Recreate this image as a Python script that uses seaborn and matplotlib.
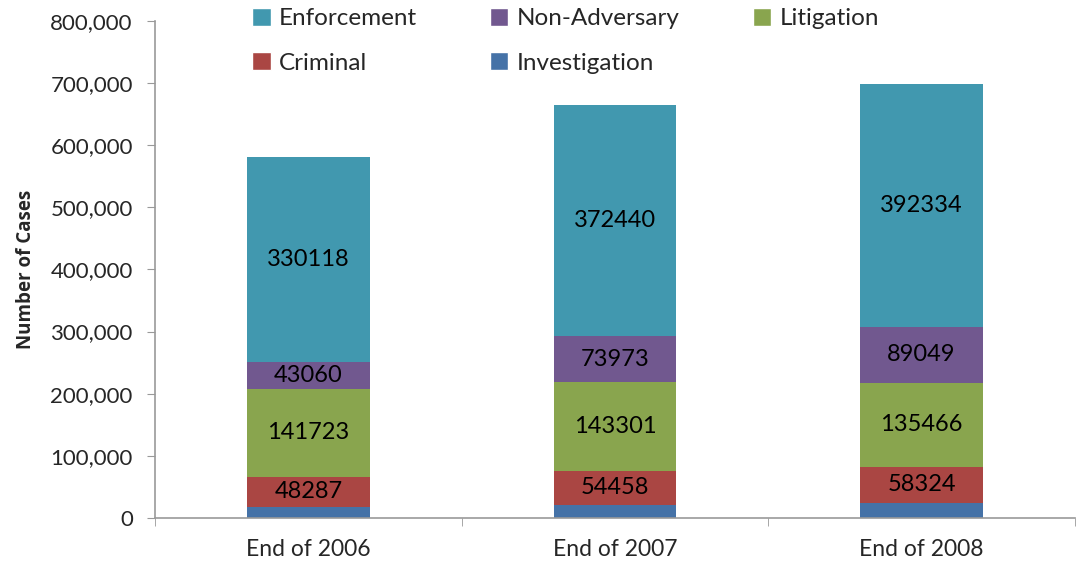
import numpy as np
import pandas as pd
import matplotlib.pyplot as plt
import seaborn as sns
from matplotlib.patches import Patch
from matplotlib.ticker import FuncFormatter

# Data
years = ['End of 2006', 'End of 2007', 'End of 2008']
investigation = [18000, 21000, 24000]
criminal = [48287, 54458, 58324]
litigation = [141723, 143301, 135466]
non_adversary = [43060, 73973, 89049]
enforcement = [330118, 372440, 392334]

# stacking order, bottom to top
series = {
    'Investigation': investigation,
    'Criminal': criminal,
    'Litigation': litigation,
    'Non-Adversary': non_adversary,
    'Enforcement': enforcement,
}
colors = {
    'Investigation': '#4572A7',
    'Criminal': '#AA4643',
    'Litigation': '#89A54E',
    'Non-Adversary': '#71588F',
    'Enforcement': '#4198AF',
}

sns.set_style('white')
plt.rcParams['font.family'] = ['Lato', 'DejaVu Sans']

df = pd.DataFrame(series, index=years)
cum = df.cumsum(axis=1)

fig = plt.figure(figsize=(10.77, 5.66), dpi=100)
ax = fig.add_axes([0.144, 0.085, 0.854, 0.878])

# draw cumulative totals from the top down so each layer overlays the last
for name in reversed(list(series.keys())):
    sns.barplot(x=years, y=cum[name].values, color=colors[name],
                width=0.4, saturation=1, ax=ax, edgecolor='none')

# segment labels (all except the thin investigation layer)
for name in ['Criminal', 'Litigation', 'Non-Adversary', 'Enforcement']:
    for i, year in enumerate(years):
        top = cum.loc[year, name]
        val = df.loc[year, name]
        ax.text(i, top - val / 2, f'{val}', ha='center', va='center',
                fontsize=17, color='black')

ax.set_ylim(0, 800000)
ax.set_xlim(-0.5, 2.5)
ax.set_yticks(np.arange(0, 800001, 100000))
ax.yaxis.set_major_formatter(FuncFormatter(lambda v, p: f'{int(v):,}'))
ax.set_ylabel('Number of Cases', fontsize=13.5, fontweight='bold',
              family=['Open Sans', 'DejaVu Sans'], labelpad=10)
ax.set_xlabel('')

for s in ['top', 'right']:
    ax.spines[s].set_visible(False)
for s in ['left', 'bottom']:
    ax.spines[s].set_color('#999999')
    ax.spines[s].set_linewidth(1.2)

ax.tick_params(axis='y', direction='out', length=6, color='#999999',
               labelsize=16, left=True, pad=10)
ax.tick_params(axis='x', which='major', length=0, labelsize=16.5, pad=15)
ax.set_xticks([-0.5, 0.5, 1.5, 2.5], minor=True)
ax.tick_params(axis='x', which='minor', direction='out', length=6,
               color='#999999', bottom=True)

# legend: row 1 Enforcement, Non-Adversary, Litigation; row 2 Criminal, Investigation
order = ['Enforcement', 'Criminal', 'Non-Adversary', 'Investigation', 'Litigation']
handles = [Patch(facecolor=colors[n], label=n) for n in order]
ax.legend(handles=handles, ncol=3, loc='upper left', bbox_to_anchor=(0.082, 1.07),
          frameon=False, fontsize=17.5, handlelength=0.75, handleheight=0.75,
          handletextpad=0.35, columnspacing=3.0, labelspacing=0.95)

fig.savefig('out.png', dpi=100)
